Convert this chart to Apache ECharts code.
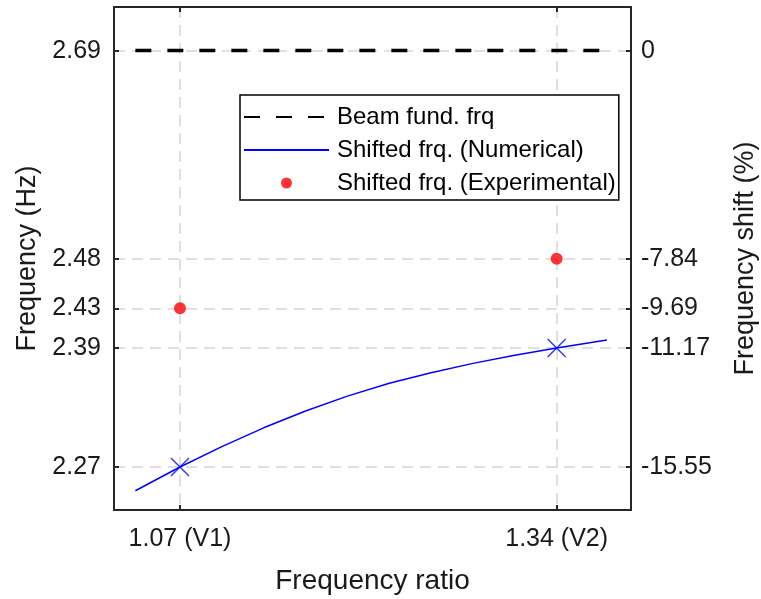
<!DOCTYPE html>
<html><head><meta charset="utf-8">
<script src="https://cdn.jsdelivr.net/npm/echarts@6/dist/echarts.min.js"></script>
<style>html,body{margin:0;padding:0;background:#fff}#c{width:761px;height:599px}</style>
</head><body><div id="c"></div><script>
// tick values / labels
const xTickValues = [1.07, 1.34];
const xTickLabels = ['1.07 (V1)', '1.34 (V2)'];
const yTickValues = [2.27, 2.39, 2.43, 2.48, 2.69];
const yLeftLabels = ['2.27', '2.39', '2.43', '2.48', '2.69'];
const yRightLabels = ['-15.55', '-11.17', '-9.69', '-7.84', '0'];
// series values
const beamX = [1.038, 1.376];
const beamY = [2.69, 2.69];
const numX = [1.038, 1.07, 1.10, 1.13, 1.16, 1.19, 1.22, 1.25, 1.28, 1.31, 1.34, 1.376];
const numY = [2.246, 2.270, 2.2905, 2.3095, 2.3265, 2.3415, 2.3545, 2.3650, 2.3745, 2.3828, 2.3900, 2.3980];
const markX = [1.07, 1.34];
const markY = [2.27, 2.39];
const expX = [1.07, 1.34];
const expY = [2.43, 2.48];

const zip = (a, b) => a.map((v, i) => [v, b[i]]);
const lookup = (vals, labels) => v => {
  const i = vals.findIndex(t => Math.abs(t - v) < 1e-6);
  return i >= 0 ? labels[i] : '';
};
const FONT = 'Liberation Sans';
const TXT = '#1a1a1a';
const AX = '#262626';
const GRIDC = '#d6d6d6';
const X_MIN = 1.0227, X_MAX = 1.3933, Y_MIN = 2.2266, Y_MAX = 2.734;
const hideSym = {opacity: 0, color: 'rgba(0,0,0,0)', borderWidth: 0};

const chart = echarts.init(document.getElementById('c'), null, {renderer: 'canvas'});
chart.setOption({
  animation: false,
  backgroundColor: '#fff',
  textStyle: {fontFamily: FONT},
  grid: {left: 114, right: 130, top: 7, bottom: 89, containLabel: false, outerBoundsMode: 'none'},
  legend: {
    orient: 'vertical', left: 240, top: 95,
    data: [
      {name: 'Beam fund. frq', itemStyle: hideSym},
      {name: 'Shifted frq. (Numerical)', itemStyle: hideSym},
      {name: 'Shifted frq. (Experimental)'}
    ],
    backgroundColor: '#fff', borderColor: '#000', borderWidth: 1.5, borderRadius: 0,
    padding: [10, 3, 5, 3], itemWidth: 85, itemHeight: 11, itemGap: 9,
    selectedMode: false,
    textStyle: {fontFamily: FONT, fontSize: 24, color: '#000', padding: [0, 0, 0, 3]}
  },
  xAxis: [{
    type: 'value', min: X_MIN, max: X_MAX, position: 'bottom',
    axisLine: {show: true, onZero: false, lineStyle: {color: AX, width: 2}},
    axisTick: {show: true, inside: true, length: 5, customValues: xTickValues, lineStyle: {color: AX, width: 2}},
    axisLabel: {customValues: xTickValues, formatter: lookup(xTickValues, xTickLabels), margin: 17,
      fontSize: 25, color: TXT, fontFamily: FONT},
    splitLine: {show: true, lineStyle: {color: GRIDC, type: [11, 7], width: 1.5}},
    name: 'Frequency ratio', nameLocation: 'middle', nameGap: 57,
    nameTextStyle: {fontSize: 28, color: TXT, fontFamily: FONT}
  }, {
    type: 'value', min: X_MIN, max: X_MAX, position: 'top',
    axisLine: {show: true, onZero: false, lineStyle: {color: AX, width: 2}},
    axisTick: {show: true, inside: true, length: 5, customValues: xTickValues, lineStyle: {color: AX, width: 2}},
    axisLabel: {show: false}, splitLine: {show: false}
  }],
  yAxis: [{
    type: 'value', min: Y_MIN, max: Y_MAX, position: 'left',
    axisLine: {show: true, onZero: false, lineStyle: {color: AX, width: 2}},
    axisTick: {show: true, inside: true, length: 5, customValues: yTickValues, lineStyle: {color: AX, width: 2}},
    axisLabel: {customValues: yTickValues, formatter: lookup(yTickValues, yLeftLabels), margin: 13,
      fontSize: 25, color: TXT, fontFamily: FONT},
    splitLine: {show: true, lineStyle: {color: GRIDC, type: [11, 7], width: 1.5}},
    name: 'Frequency (Hz)', nameLocation: 'middle', nameGap: 71,
    nameTextStyle: {fontSize: 27, color: TXT, fontFamily: FONT}
  }, {
    type: 'value', min: Y_MIN, max: Y_MAX, position: 'right',
    axisLine: {show: true, onZero: false, lineStyle: {color: AX, width: 2}},
    axisTick: {show: true, inside: true, length: 5, customValues: yTickValues, lineStyle: {color: AX, width: 2}},
    axisLabel: {customValues: yTickValues, formatter: lookup(yTickValues, yRightLabels), margin: 10,
      fontSize: 25, color: TXT, fontFamily: FONT},
    splitLine: {show: false},
    name: 'Frequency shift (%)', nameLocation: 'middle', nameGap: 101,
    nameTextStyle: {fontSize: 27, color: TXT, fontFamily: FONT}
  }],
  series: [{
    name: 'Beam fund. frq', type: 'line', data: zip(beamX, beamY), symbol: 'none',
    lineStyle: {color: '#000', width: 3.5, type: [16, 16]}, itemStyle: {color: '#000'}
  }, {
    name: 'Shifted frq. (Numerical)', type: 'line', data: zip(numX, numY), symbol: 'none',
    lineStyle: {color: '#0000ff', width: 1.5}, itemStyle: {color: '#0000ff'}
  }, {
    name: 'markers', type: 'scatter', data: zip(markX, markY),
    symbol: 'path://M0,0L10,10M10,0L0,10', symbolSize: 18,
    itemStyle: {color: 'none', borderColor: '#0000ff', borderWidth: 1.4}
  }, {
    name: 'Shifted frq. (Experimental)', type: 'scatter', data: zip(expX, expY),
    symbol: 'circle', symbolSize: 12, itemStyle: {color: '#ff0000'}
  }]
});
</script></body></html>
